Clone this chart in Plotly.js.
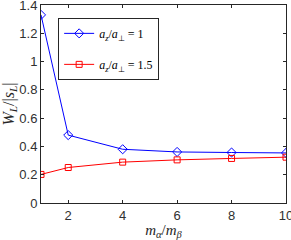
<!DOCTYPE html>
<html><head><meta charset="utf-8">
<script src="https://cdn.plot.ly/plotly-3.0.1.min.js"></script>
<style>body{margin:0;background:#fff}#c{width:291px;height:240px}</style>
</head><body><div id="c"></div>
<script>
const xVals = [1, 2, 4, 6, 8, 10];
const seriesA = [1.33, 0.48, 0.38, 0.361, 0.357, 0.354];
const seriesB = [0.202, 0.251, 0.289, 0.305, 0.315, 0.324];
const nameA = '<i>a<sub>z</sub></i>/<i>a</i><sub>⊥</sub> = 1';
const nameB = '<i>a<sub>z</sub></i>/<i>a</i><sub>⊥</sub> = 1.5';
const yTicks = [0, 0.2, 0.4, 0.6, 0.8, 1, 1.2, 1.4];
const xTicks = [2, 4, 6, 8, 10];

const traces = [
  {x: xVals, y: seriesA, name: nameA, legendgroup: 'a', mode: 'lines+markers', type: 'scatter',
   line: {color: '#0000ff', width: 1},
   marker: {symbol: 'diamond-open', size: 7, color: '#0000ff', line: {width: 1}}},
  {x: xVals, y: seriesB, name: nameB, legendgroup: 'b', mode: 'lines+markers', type: 'scatter',
   line: {color: '#ff0000', width: 1},
   marker: {symbol: 'square-open', size: 6, color: '#ff0000', line: {width: 1}}}
];
const axisCommon = {showgrid: false, zeroline: false, showline: true, mirror: 'ticks',
  linecolor: '#262626', linewidth: 1, ticks: 'inside', ticklen: 3, tickcolor: '#262626',
  ticklabeloverflow: 'allow',
  tickfont: {family: 'Liberation Sans, Arial', size: 13, color: '#303030'}};
const layout = {
  width: 291, height: 240, margin: {l: 41, r: 5, t: 5, b: 37},
  paper_bgcolor: '#fff', plot_bgcolor: '#fff', showlegend: true,
  xaxis: Object.assign({}, axisCommon, {range: [1, 10], tickvals: xTicks, ticktext: xTicks.map(String),
    title: {text: '<i>m<sub>α</sub></i>/<i>m<sub>β</sub></i>', standoff: 3,
      font: {family: 'Liberation Serif, serif', size: 15, color: '#262626'}}}),
  yaxis: Object.assign({}, axisCommon, {range: [0, 1.4], tickvals: yTicks, ticktext: yTicks.map(String),
    title: {text: '<i>W<sub>L</sub></i>/|<i>s<sub>L</sub></i>|', standoff: 1,
      font: {family: 'Liberation Serif, serif', size: 16, color: '#262626'}}}),
  legend: {x: 0.07, y: 0.935, xanchor: 'left', yanchor: 'top', bgcolor: '#fff',
    bordercolor: '#262626', borderwidth: 1, traceorder: 'grouped', tracegroupgap: 12,
    font: {family: 'Liberation Serif, serif', size: 12, color: '#000'}, itemwidth: 30}
};
Plotly.newPlot('c', traces, layout, {staticPlot: true, displayModeBar: false});
</script></body></html>
